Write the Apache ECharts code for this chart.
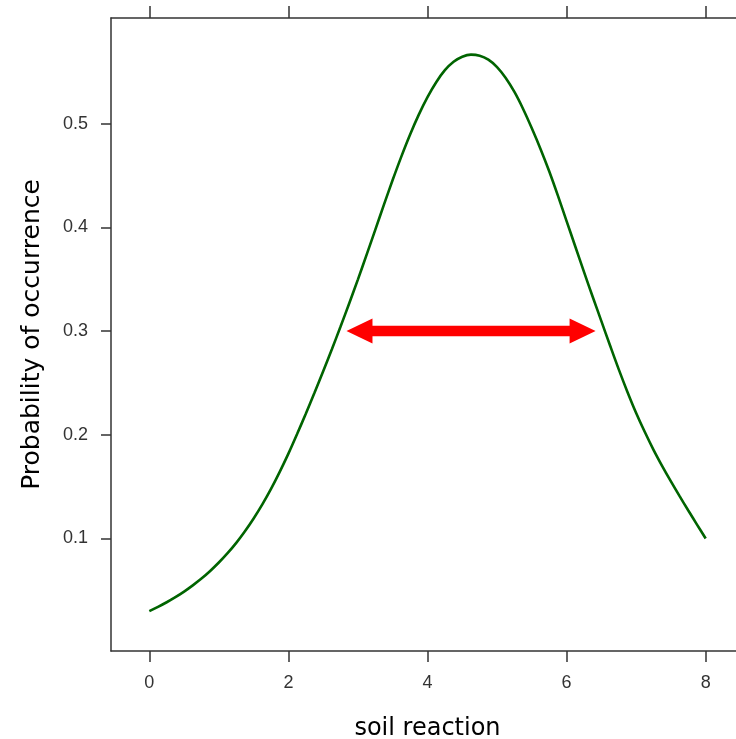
<!DOCTYPE html>
<html>
<head>
<meta charset="utf-8">
<script src="https://cdn.jsdelivr.net/npm/echarts@6/dist/echarts.min.js"></script>
<style>
html,body{margin:0;padding:0;background:#fff;}
#c{width:736px;height:739px;}
</style>
</head>
<body>
<div id="c"></div>
<script>
// soil reaction values (x) and probability of occurrence (y)
const soilReaction = [
  0, 0.125, 0.25, 0.375, 0.5, 0.625, 0.75, 0.875, 1.0, 1.125, 1.25, 1.375, 1.5, 1.625, 1.75, 1.875,
  2.0, 2.125, 2.25, 2.375, 2.5, 2.625, 2.75, 2.875, 3.0, 3.125, 3.25, 3.375, 3.5, 3.625, 3.75, 3.875,
  4.0, 4.125, 4.25, 4.375, 4.5, 4.625, 4.75, 4.875, 5.0, 5.125, 5.25, 5.375, 5.5, 5.625, 5.75, 5.875,
  6.0, 6.125, 6.25, 6.375, 6.5, 6.625, 6.75, 6.875, 7.0, 7.125, 7.25, 7.375, 7.5, 7.625, 7.75, 7.875, 8.0
];
const probability = [
  0.0300, 0.0341, 0.0385, 0.0434, 0.0488, 0.0548, 0.0613, 0.0687, 0.0768, 0.0858, 0.0958, 0.1070, 0.1193, 0.1329, 0.1478, 0.1642,
  0.1818, 0.2007, 0.2203, 0.2405, 0.2613, 0.2825, 0.3043, 0.3268, 0.3498, 0.3736, 0.3978, 0.4221, 0.4458, 0.4684, 0.4895, 0.5086,
  0.5255, 0.5399, 0.5515, 0.5596, 0.5645, 0.5665, 0.5655, 0.5616, 0.5545, 0.5440, 0.5305, 0.5141, 0.4955, 0.4756, 0.4540, 0.4305,
  0.4060, 0.3815, 0.3570, 0.3331, 0.3095, 0.2860, 0.2630, 0.2413, 0.2210, 0.2026, 0.1855, 0.1698, 0.1550, 0.1408, 0.1270, 0.1134, 0.1000
];
// tolerance arrow
const arrowFrom = 2.835;
const arrowTo = 6.417;
const arrowLevel = 0.3;
// ticks
const xTicks = [0, 2, 4, 6, 8];
const yTicks = [0.1, 0.2, 0.3, 0.4, 0.5];

const chart = echarts.init(document.getElementById('c'), null, {renderer: 'canvas'});
const axisColor = '#333';
const labelFont = {fontFamily: 'Liberation Sans, Arial, sans-serif', fontSize: 18, color: '#333'};

chart.setOption({
  animation: false,
  backgroundColor: '#fff',
  grid: {left: 111, top: 18, width: 633, height: 633, containLabel: false, outerBoundsMode: 'none'},
  xAxis: [{
    type: 'value', position: 'bottom', min: -0.551, max: 8.551,
    name: 'soil reaction', nameLocation: 'middle', nameGap: 66,
    nameTextStyle: {fontFamily: 'DejaVu Sans', fontSize: 24, color: '#000'},
    axisLine: {show: true, onZero: false, lineStyle: {color: axisColor, width: 1.5}},
    axisTick: {show: true, inside: false, length: 11, customValues: xTicks, lineStyle: {color: axisColor, width: 1.5}},
    axisLabel: Object.assign({show: true, margin: 23, customValues: xTicks, formatter: v => String(v)}, labelFont),
    splitLine: {show: false}
  }, {
    type: 'value', position: 'top', min: -0.551, max: 8.551,
    axisLine: {show: true, onZero: false, lineStyle: {color: axisColor, width: 1.5}},
    axisTick: {show: true, inside: false, length: 12, customValues: xTicks, lineStyle: {color: axisColor, width: 1.5}},
    axisLabel: {show: false},
    splitLine: {show: false}
  }],
  yAxis: [{
    type: 'value', position: 'left', min: -0.0085, max: 0.6018,
    name: 'Probability of occurrence', nameLocation: 'middle', nameGap: 66, nameRotate: 90,
    nameTextStyle: {fontFamily: 'DejaVu Sans', fontSize: 25, color: '#000'},
    axisLine: {show: true, onZero: false, lineStyle: {color: axisColor, width: 1.5}},
    axisTick: {show: true, inside: false, length: 10, customValues: yTicks, lineStyle: {color: axisColor, width: 1.5}},
    axisLabel: Object.assign({show: true, margin: 23, customValues: yTicks, formatter: v => v.toFixed(1)}, labelFont),
    splitLine: {show: false}
  }],
  series: [{
    type: 'line',
    xAxisIndex: 0, yAxisIndex: 0,
    data: soilReaction.map((x, i) => [x, probability[i]]),
    smooth: 0.33,
    showSymbol: false,
    symbol: 'none',
    lineStyle: {color: '#006400', width: 2.6},
    z: 3
  }, {
    type: 'custom',
    xAxisIndex: 0, yAxisIndex: 0,
    clip: false,
    data: [[arrowFrom, arrowTo, arrowLevel]],
    encode: {x: [0, 1], y: 2},
    renderItem: function (params, api) {
      const a = api.coord([api.value(0), api.value(2)]);
      const b = api.coord([api.value(1), api.value(2)]);
      const y = a[1];
      const L = 26, h = 12.5, s = 5.3;
      const pts = [
        [a[0], y], [a[0] + L, y - h], [a[0] + L, y - s], [b[0] - L, y - s], [b[0] - L, y - h],
        [b[0], y], [b[0] - L, y + h], [b[0] - L, y + s], [a[0] + L, y + s], [a[0] + L, y + h]
      ];
      return {type: 'polygon', shape: {points: pts}, style: {fill: '#ff0000', stroke: null}};
    },
    z: 4
  }]
});
</script>
</body>
</html>
